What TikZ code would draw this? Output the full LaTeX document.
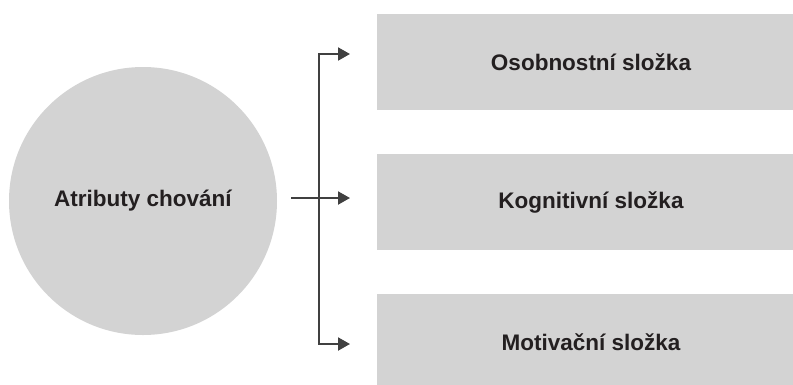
\documentclass[tikz,border=0pt]{standalone}
\usepackage{fontspec}
\setmainfont{Liberation Sans}
\usetikzlibrary{arrows.meta}
\definecolor{fillgrey}{HTML}{D3D3D3}
\definecolor{linegrey}{HTML}{404040}
\definecolor{txt}{HTML}{231F20}
\tikzset{
  lbl/.style={font=\fontsize{22.5}{27}\selectfont\bfseries, text=txt},
  circ/.style={circle, fill=fillgrey, minimum size=268pt, inner sep=0pt, lbl},
  box/.style={rectangle, fill=fillgrey, minimum width=428pt, minimum height=96pt, inner sep=0pt, lbl},
  conn/.style={draw=linegrey, line width=2pt, line join=miter},
  tip/.style={-{Triangle[length=12pt,width=13pt]}}
}
\begin{document}
\begin{tikzpicture}[x=1pt,y=-1pt]
\useasboundingbox (0,0) rectangle (793,384);
\clip (0,0) rectangle (793,384);
\node[circ] (c) at (143,201) {Atributy chování};
\node[box] (b1) at (591,62) {Osobnostní složka};
\node[box] (b2) at (591,202) {Kognitivní složka};
\node[box] (b3) at (591,342) {Motivační složka};
\coordinate (s) at (291,198);
\coordinate (jt) at (319,54);
\coordinate (jb) at (319,344);
\coordinate (e1) at (350,54);
\coordinate (e2) at (350,198);
\coordinate (e3) at (350,344);
\draw[conn,{Triangle[length=12pt,width=13pt]}-{Triangle[length=12pt,width=13pt]}] (e1) -- (jt) -- (jb) -- (e3);
\draw[conn,tip] (s) -- (e2);
\end{tikzpicture}
\end{document}
